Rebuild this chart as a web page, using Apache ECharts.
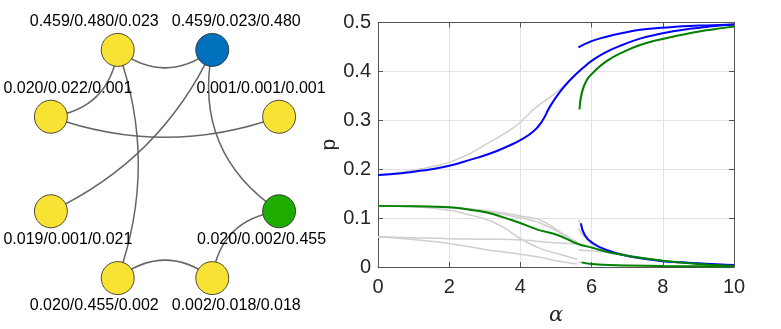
<!DOCTYPE html>
<html>
<head>
<meta charset="utf-8">
<title>ECharts</title>
<script src="https://cdn.jsdelivr.net/npm/echarts@6/dist/echarts.min.js"></script>
</head>
<body style="margin:0;background:#fff">
<div id="main" style="width:781px;height:329px"></div>
<script type="text/javascript">
// ---- network (left). nodes listed in circular-layout order, starting lower right, clockwise
var nodeLabels = ['0.020/0.002/0.455', '0.002/0.018/0.018', '0.020/0.455/0.002', '0.019/0.001/0.021',
                  '0.020/0.022/0.001', '0.459/0.480/0.023', '0.459/0.023/0.480', '0.001/0.001/0.001'];
var nodeKind = ['g', 'y', 'y', 'y', 'y', 'y', 'b', 'y'];
var edges = [[5, 6], [5, 4], [5, 2], [6, 3], [6, 0], [4, 7], [0, 1], [2, 1]];

// ---- p vs alpha (right)
var xTicks = [0, 2, 4, 6, 8, 10];
var yTicks = [0, 0.1, 0.2, 0.3, 0.4, 0.5];

var blueMain = [[0, 0.188], [0.5, 0.1905], [1, 0.195], [1.5, 0.2], [2, 0.207], [2.58, 0.219], [3.15, 0.232],
    [3.71, 0.249], [4.01, 0.26], [4.36, 0.277], [4.6, 0.297], [4.83, 0.328], [5.11, 0.358], [5.39, 0.382],
    [5.77, 0.408], [6.05, 0.424], [6.42, 0.44], [6.9, 0.455], [7.36, 0.467], [7.8, 0.475], [8.29, 0.482],
    [8.75, 0.487], [9.23, 0.491], [9.6, 0.494], [10, 0.496]];
var blueTop = [[5.63, 0.449], [6, 0.462], [6.42, 0.471], [6.9, 0.479], [7.36, 0.485], [7.8, 0.488],
    [8.29, 0.491], [8.75, 0.493], [9.23, 0.494], [9.6, 0.495], [10, 0.496]];
var blueLow = [[5.7, 0.089], [5.81, 0.065], [6.05, 0.048], [6.42, 0.035], [6.89, 0.0245], [7.36, 0.018],
    [8, 0.012], [8.5, 0.0095], [9, 0.0075], [9.5, 0.0055], [10, 0.004]];

var greenMain = [[0, 0.125], [1, 0.124], [2, 0.122], [2.5, 0.118], [3.09, 0.111], [3.5, 0.102],
    [3.75, 0.096], [4.03, 0.089], [4.5, 0.076], [5.06, 0.065], [5.62, 0.047], [6.05, 0.039],
    [6.42, 0.031], [6.89, 0.0245], [7.36, 0.019], [8, 0.013], [8.5, 0.009], [9, 0.006], [9.5, 0.004],
    [10, 0.002]];
var greenTop = [[5.66, 0.322], [5.72, 0.355], [5.86, 0.382], [6.05, 0.398], [6.42, 0.421], [6.9, 0.44],
    [7.36, 0.454], [7.8, 0.463], [8.29, 0.471], [8.75, 0.478], [9.23, 0.484], [9.6, 0.488], [10, 0.492]];
var greenLow = [[5.72, 0.0095], [6, 0.006], [6.5, 0.004], [7, 0.003], [8, 0.002], [9, 0.0015], [10, 0.001]];

var grayCurves = [
    [[0, 0.188], [0.5, 0.192], [1, 0.198], [1.5, 0.205], [2, 0.214], [2.58, 0.232], [3.15, 0.256],
     [3.71, 0.28], [4.01, 0.297], [4.46, 0.328], [4.92, 0.352], [5.39, 0.382], [5.62, 0.399]],
    [[0, 0.125], [1, 0.124], [2, 0.122], [3.09, 0.115], [4.03, 0.104], [4.55, 0.096], [5.11, 0.072],
     [5.6, 0.05]],
    [[0, 0.125], [1, 0.124], [2, 0.121], [3.09, 0.113], [4.03, 0.1], [4.55, 0.09], [5.11, 0.07],
     [5.6, 0.05]],
    [[0, 0.125], [1, 0.123], [2, 0.116], [2.5, 0.108], [3.09, 0.096], [3.5, 0.082], [4.03, 0.057],
     [4.55, 0.038], [5.1, 0.026], [5.6, 0.016]],
    [[0, 0.062], [1, 0.06], [2, 0.058], [3, 0.057], [4.08, 0.055], [4.55, 0.052], [5.1, 0.049], [5.6, 0.047]],
    [[0, 0.062], [1, 0.056], [2, 0.048], [3, 0.036], [4, 0.026], [4.55, 0.02], [5, 0.013], [5.6, 0.006]],
    [[5.63, 0.097], [5.7, 0.084], [5.77, 0.072], [5.9, 0.058], [6.05, 0.047], [6.4, 0.036], [7, 0.024],
     [8, 0.012], [9, 0.007], [10, 0.004]],
    [[5.63, 0.079], [5.75, 0.066], [5.9, 0.054], [6.05, 0.045], [6.4, 0.034], [7, 0.024], [8, 0.013]],
    [[5.63, 0.035], [6, 0.033], [6.4, 0.03], [7, 0.024], [8, 0.013]],
    [[5.63, 0.01], [6, 0.006], [7, 0.003], [8, 0.002]],
    [[5.68, 0.33], [5.75, 0.358], [5.9, 0.385], [6.1, 0.401], [6.5, 0.425]]
];

var myChart = echarts.init(document.getElementById('main'), null, { renderer: 'canvas' });

var yellow = '#F8E234', nodeColors = { y: yellow, b: '#0072BD', g: '#1FAC00' };
// label nudges so texts sit like in the original figure
var labelDx = [-17.5, 24, -23.5, 17, 17, -23.5, 24, -18];
var ringCurve = { 1: 0.105, 2: 0.22, 3: 0.29 };

var nodes = nodeLabels.map(function (lab, i) {
    return {
        name: lab,
        itemStyle: { color: nodeColors[nodeKind[i]] },
        label: { position: i < 4 ? 'bottom' : 'top', offset: [labelDx[i], 0] }
    };
});
var links = edges.map(function (e) {
    var d = Math.abs(e[0] - e[1]);
    d = Math.min(d, 8 - d);
    return { source: e[0], target: e[1], lineStyle: { curveness: ringCurve[d] } };
});

function lineSeries(data, color, width, z) {
    return {
        type: 'line', data: data, xAxisIndex: 0, yAxisIndex: 0,
        showSymbol: false, smooth: 0.5, z: z,
        lineStyle: { color: color, width: width }
    };
}

var axisCol = '#555555', textCol = '#262626', font = 'Liberation Sans, Arial, sans-serif';

var series = [{
    type: 'graph',
    layout: 'circular',
    left: 41.5, top: 40.5, width: 247, height: 247,
    symbol: 'circle',
    symbolSize: 33,
    silent: true,
    data: nodes,
    links: links,
    itemStyle: { borderColor: '#222', borderWidth: 0.8 },
    label: { show: true, color: '#000', fontSize: 16, fontFamily: font, distance: 3 },
    lineStyle: { color: '#666', width: 1.5, opacity: 1 },
    z: 2
}];
grayCurves.forEach(function (c) { series.push(lineSeries(c, '#CFCFCF', 1.5, 3)); });
[blueMain, blueTop, blueLow].forEach(function (c) { series.push(lineSeries(c, '#0000FF', 2, 4)); });
[greenMain, greenTop, greenLow].forEach(function (c) { series.push(lineSeries(c, '#008000', 2, 5)); });

var option = {
    animation: false,
    backgroundColor: '#fff',
    grid: { left: 378, right: 47, top: 22.5, bottom: 62, outerBoundsMode: 'none' },
    xAxis: [{
        type: 'value', min: xTicks[0], max: xTicks[xTicks.length - 1], interval: xTicks[1] - xTicks[0],
        name: 'α', nameLocation: 'middle', nameGap: 38,
        nameTextStyle: { fontFamily: 'DejaVu Serif', fontStyle: 'italic', fontSize: 21, color: textCol },
        axisLine: { show: true, onZero: false, lineStyle: { color: axisCol, width: 1 } },
        axisTick: { show: true, inside: true, length: 5, lineStyle: { color: axisCol } },
        axisLabel: { color: textCol, fontSize: 20, fontFamily: font, margin: 10 },
        splitLine: { show: true, lineStyle: { color: '#E3E3E3', width: 1 } }
    }, {
        type: 'value', position: 'top', min: xTicks[0], max: xTicks[xTicks.length - 1], interval: xTicks[1] - xTicks[0],
        axisLine: { show: true, onZero: false, lineStyle: { color: axisCol, width: 1 } },
        axisTick: { show: true, inside: true, length: 5, lineStyle: { color: axisCol } },
        axisLabel: { show: false }, splitLine: { show: false }
    }],
    yAxis: [{
        type: 'value', min: yTicks[0], max: yTicks[yTicks.length - 1], interval: yTicks[1] - yTicks[0],
        name: 'p', nameLocation: 'middle', nameGap: 38,
        nameTextStyle: { fontFamily: font, fontSize: 21, color: textCol },
        axisLine: { show: true, onZero: false, lineStyle: { color: axisCol, width: 1 } },
        axisTick: { show: true, inside: true, length: 5, lineStyle: { color: axisCol } },
        axisLabel: { color: textCol, fontSize: 20, fontFamily: font, margin: 7 },
        splitLine: { show: true, lineStyle: { color: '#E3E3E3', width: 1 } }
    }, {
        type: 'value', position: 'right', min: yTicks[0], max: yTicks[yTicks.length - 1], interval: yTicks[1] - yTicks[0],
        axisLine: { show: true, onZero: false, lineStyle: { color: axisCol, width: 1 } },
        axisTick: { show: true, inside: true, length: 5, lineStyle: { color: axisCol } },
        axisLabel: { show: false }, splitLine: { show: false }
    }],
    series: series
};

myChart.setOption(option);
</script>
</body>
</html>
